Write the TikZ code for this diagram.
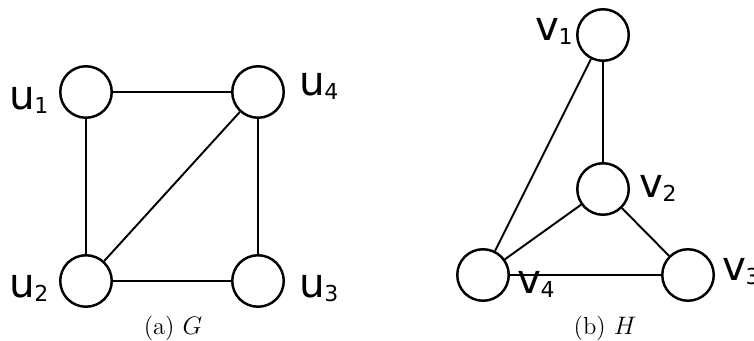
\documentclass[tikz,border=0pt]{standalone}
\usepackage{fontspec}
\newfontfamily\labelfont{DejaVu Sans}
\usetikzlibrary{positioning}
\newcommand{\vsub}[1]{\kern-0.4pt\raisebox{-2.2pt}{\fontsize{12.5}{12.5}\selectfont#1}}
\tikzset{
  graph node/.style={circle,draw,line width=1.4pt,minimum size=1.03cm,inner sep=0pt},
  graph edge/.style={line width=1.1pt},
  vertex label/.style={anchor=base west,inner sep=0pt,font=\labelfont\fontsize{23}{23}\selectfont},
  caption text/.style={anchor=base,inner sep=0pt,font=\fontsize{14}{16}\selectfont},
}
\begin{document}
\begin{tikzpicture}[x=1cm,y=1cm]
  \useasboundingbox (0,0) rectangle (15.08,6.82);
  % (a) G
  \node[graph node] (u1) at (1.72,4.98) {};
  \node[graph node] (u4) at (5.16,4.98) {};
  \node[graph node] (u2) at (1.72,1.20) {};
  \node[graph node] (u3) at (5.16,1.20) {};
  \draw[graph edge] (u1) -- (u4);
  \draw[graph edge] (u1) -- (u2);
  \draw[graph edge] (u2) -- (u3);
  \draw[graph edge] (u4) -- (u3);
  \draw[graph edge] (u2) -- (u4);
  \node[vertex label] (lu1) at (0.18,4.62) {u\vsub{1}};
  \node[vertex label] (lu2) at (0.18,0.86) {u\vsub{2}};
  \node[vertex label] (lu3) at (5.98,0.86) {u\vsub{3}};
  \node[vertex label] (lu4) at (5.98,4.90) {u\vsub{4}};
  \node[caption text] (capa) at (3.46,0.12) {(a) $G$};
  % (b) H
  \node[graph node] (v1) at (12.06,6.12) {};
  \node[graph node] (v2) at (12.06,3.04) {};
  \node[graph node] (v4) at (9.66,1.32) {};
  \node[graph node] (v3) at (13.76,1.32) {};
  \draw[graph edge] (v1) -- (v2);
  \draw[graph edge] (v1) -- (v4);
  \draw[graph edge] (v2) -- (v4);
  \draw[graph edge] (v2) -- (v3);
  \draw[graph edge] (v4) -- (v3);
  \node[vertex label] (lv1) at (10.70,6.00) {v\vsub{1}};
  \node[vertex label] (lv2) at (12.78,2.86) {v\vsub{2}};
  \node[vertex label] (lv3) at (14.44,1.20) {v\vsub{3}};
  \node[vertex label] (lv4) at (10.34,0.94) {v\vsub{4}};
  \node[caption text] (capb) at (12.10,0.12) {(b) $H$};
\end{tikzpicture}
\end{document}
